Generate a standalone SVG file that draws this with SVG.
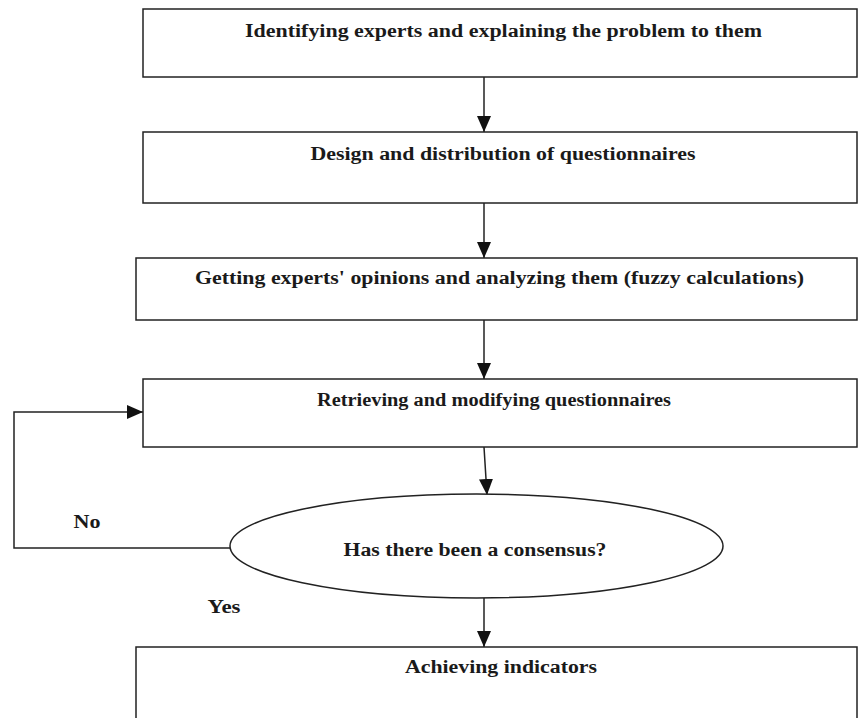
<svg xmlns="http://www.w3.org/2000/svg" width="859" height="718" viewBox="0 0 859 718">
<defs>
<marker id="arr" markerUnits="userSpaceOnUse" markerWidth="18" markerHeight="14" refX="16" refY="7" orient="auto">
<path d="M0,0 L16,7 L0,14 Z" fill="#111"/>
</marker>
<style>
.box{fill:#fff;stroke:#222;stroke-width:1.5}
.t{font-family:"Liberation Serif","Times New Roman",serif;font-weight:bold;font-size:18px;fill:#1a1a1a;text-anchor:middle}
.c{fill:none;stroke:#222;stroke-width:1.5}
</style>
</defs>
<rect width="859" height="718" fill="#fff"/>
<g id="connectors">
<line class="c" x1="484" y1="77" x2="484" y2="132" marker-end="url(#arr)"/>
<line class="c" x1="484" y1="203" x2="484" y2="258" marker-end="url(#arr)"/>
<line class="c" x1="484" y1="320" x2="484" y2="379" marker-end="url(#arr)"/>
<line class="c" x1="484" y1="447" x2="487" y2="495" marker-end="url(#arr)"/>
<line class="c" x1="484" y1="598" x2="484" y2="647" marker-end="url(#arr)"/>
<polyline class="c" points="230,548 14,548 14,412 143,412" marker-end="url(#arr)"/>
<text class="t" x="87" y="528" textLength="27" lengthAdjust="spacingAndGlyphs">No</text>
<text class="t" x="224" y="613" textLength="33" lengthAdjust="spacingAndGlyphs">Yes</text>
</g>
<g id="n1">
<rect class="box" x="143" y="9" width="714" height="68"/>
<text class="t" x="503.5" y="37" textLength="517" lengthAdjust="spacingAndGlyphs">Identifying experts and explaining the problem to them</text>
</g>
<g id="n2">
<rect class="box" x="143" y="132" width="714" height="71"/>
<text class="t" x="503" y="160" textLength="385" lengthAdjust="spacingAndGlyphs">Design and distribution of questionnaires</text>
</g>
<g id="n3">
<rect class="box" x="136" y="258" width="721" height="62"/>
<text class="t" x="499.5" y="284" textLength="609" lengthAdjust="spacingAndGlyphs">Getting experts' opinions and analyzing them (fuzzy calculations)</text>
</g>
<g id="n4">
<rect class="box" x="143" y="379" width="714" height="68"/>
<text class="t" x="494" y="406" textLength="354" lengthAdjust="spacingAndGlyphs">Retrieving and modifying questionnaires</text>
</g>
<g id="n5">
<ellipse class="box" cx="476.5" cy="546" rx="246.5" ry="52"/>
<text class="t" x="475" y="556" textLength="263" lengthAdjust="spacingAndGlyphs">Has there been a consensus?</text>
</g>
<g id="n6">
<rect class="box" x="136" y="647" width="721" height="80"/>
<text class="t" x="501" y="673" textLength="192" lengthAdjust="spacingAndGlyphs">Achieving indicators</text>
</g>
</svg>
